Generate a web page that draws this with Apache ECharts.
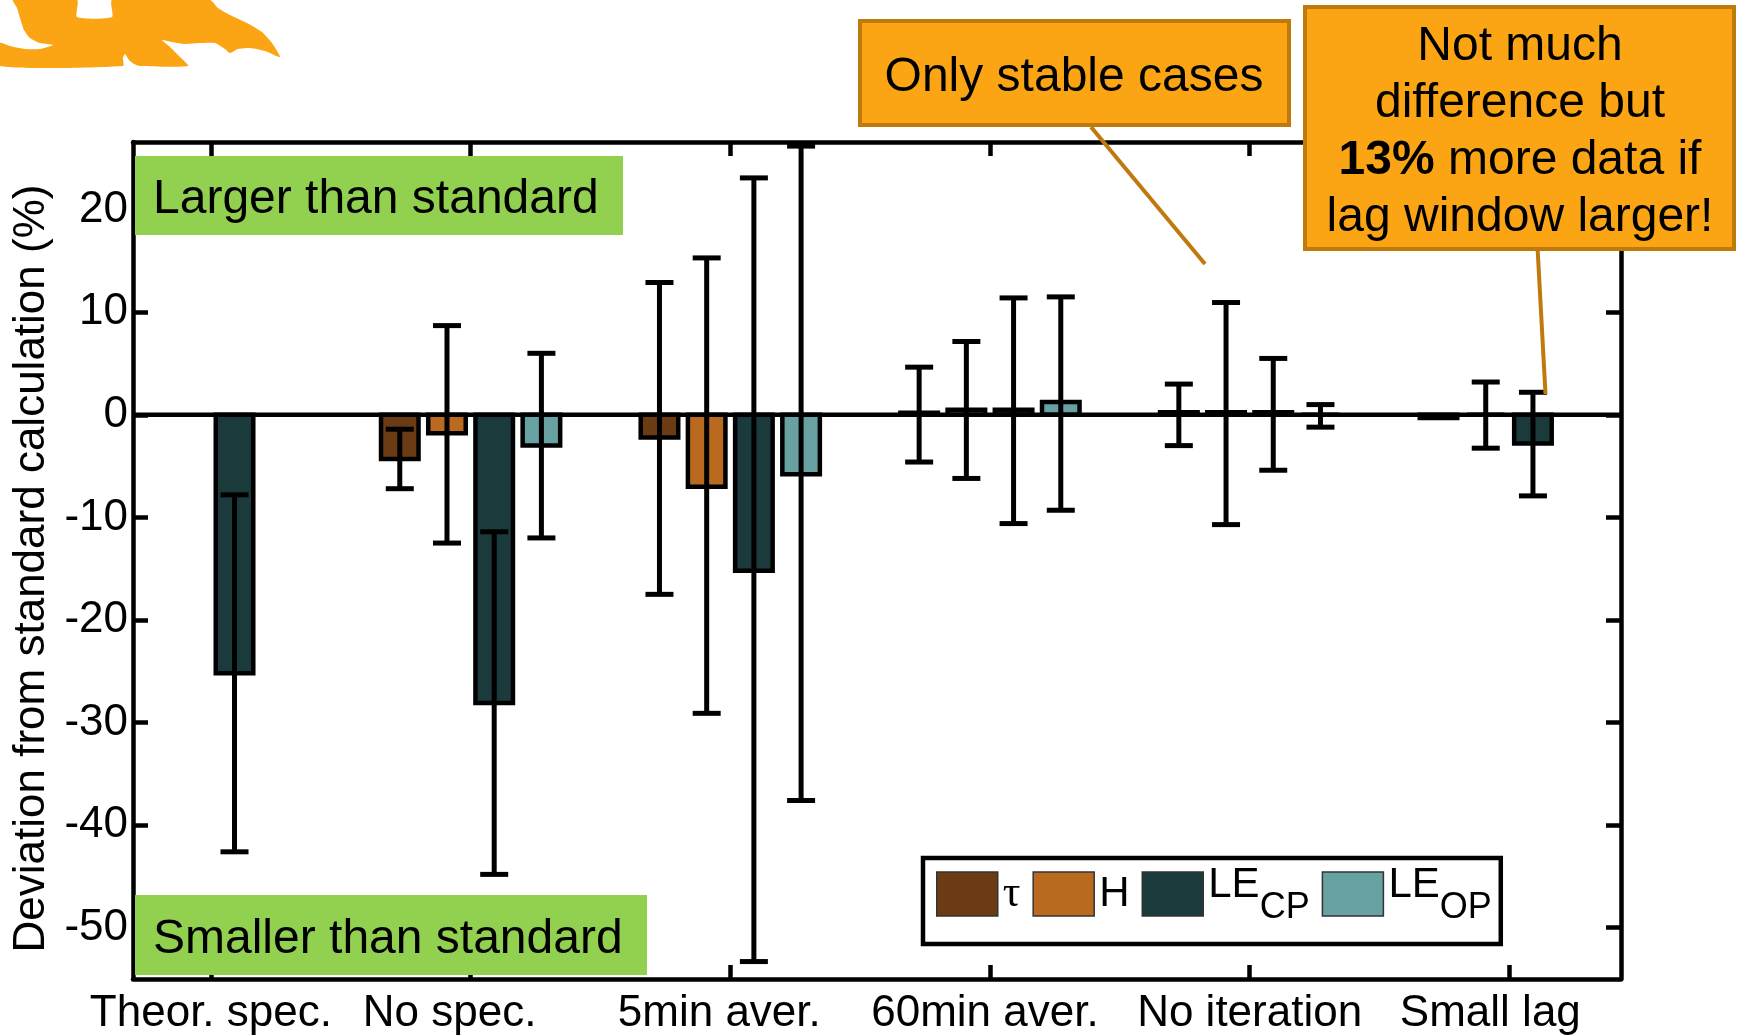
<!DOCTYPE html>
<html>
<head>
<meta charset="utf-8">
<script src="https://cdn.jsdelivr.net/npm/echarts@6/dist/echarts.min.js"></script>
<style>
html,body{margin:0;padding:0;background:#fff;}
#chart{width:1737px;height:1036px;}
</style>
</head>
<body>
<div id="chart"></div>
<script>
// ---- data ----
const categories = ['Theor. spec.', 'No spec.', '5min aver.', '60min aver.', 'No iteration', 'Small lag'];
const seriesNames = ['τ', 'H', 'LE_CP', 'LE_OP'];
const seriesColors = ['#6B3C14', '#B96A1E', '#1B3A3B', '#67A1A2'];

const tauMean  = [null, -4.3, -2.2, 0.2, 0.25, -0.3];
const tauLow   = [null, -7.2, -17.5, -4.6, -3.0, null];
const tauHigh  = [null, -1.4, 12.9, 4.65, 3.0, null];

const hMean    = [null, -1.8, -7.0, 0.5, 0.25, 0.0];
const hLow     = [null, -12.5, -29.1, -6.2, -10.7, -3.25];
const hHigh    = [null, 8.7, 15.3, 7.15, 10.95, 3.2];

const lecpMean = [-25.2, -28.1, -15.2, 0.5, 0.25, -2.8];
const lecpLow  = [-42.6, -44.8, -53.3, -10.6, -5.4, -7.9];
const lecpHigh = [-7.8, -11.4, 23.1, 11.4, 5.5, 2.2];

const leopMean = [null, -3.0, -5.8, 1.25, 0.0, null];
const leopLow  = [null, -12.0, -37.6, -9.3, -1.2, null];
const leopHigh = [null, 6.0, 26.2, 11.5, 1.0, null];

const yTicks = [-50, -40, -30, -20, -10, 0, 10, 20];
const xTicks = [1, 2, 3, 4, 5, 6];

// ---- layout / style constants ----
const FONT = 'Liberation Sans, Arial, sans-serif';
const offsets = [-0.2727, -0.0909, 0.0909, 0.2727];
const BAR_W = 0.1445;
const CAP = 14;
// horizontal nudge of each category label (px, negative = left)
const labelNudge = [0, -21, -11, -5, 0, -19];

const means = [tauMean, hMean, lecpMean, leopMean];
const lows = [tauLow, hLow, lecpLow, leopLow];
const highs = [tauHigh, hHigh, lecpHigh, leopHigh];

function barData(arr) {
  const out = [];
  arr.forEach((v, i) => { if (v !== null) out.push([xTicks[i], v]); });
  return out;
}
function errData(lo, hi) {
  const out = [];
  lo.forEach((v, i) => { if (v !== null && hi[i] !== null) out.push([xTicks[i], v, hi[i]]); });
  return out;
}

const series = [];
seriesNames.forEach((name, k) => {
  const off = offsets[k];
  const color = seriesColors[k];
  series.push({
    name: name,
    type: 'custom',
    coordinateSystem: 'cartesian2d',
    itemStyle: { color: color },
    encode: { x: 0, y: 1 },
    z: 2,
    data: barData(means[k]),
    renderItem: function (params, api) {
      const x = api.value(0) + off;
      const v = api.value(1);
      const p1 = api.coord([x - BAR_W / 2, v]);
      const p0 = api.coord([x + BAR_W / 2, 0]);
      return {
        type: 'rect',
        shape: { x: p1[0], y: Math.min(p0[1], p1[1]), width: p0[0] - p1[0], height: Math.abs(p0[1] - p1[1]) },
        style: { fill: color, stroke: '#000', lineWidth: 4.5 }
      };
    }
  });
});
seriesNames.forEach((name, k) => {
  const off = offsets[k];
  series.push({
    name: name + ' err',
    type: 'custom',
    coordinateSystem: 'cartesian2d',
    encode: { x: 0, y: [1, 2] },
    z: 4,
    silent: true,
    data: errData(lows[k], highs[k]),
    renderItem: function (params, api) {
      const x = api.value(0) + off;
      const lo = api.coord([x, api.value(1)]);
      const hi = api.coord([x, api.value(2)]);
      const st = { stroke: '#000', lineWidth: 5 };
      return {
        type: 'group',
        children: [
          { type: 'line', shape: { x1: lo[0], y1: lo[1], x2: hi[0], y2: hi[1] }, style: st },
          { type: 'line', shape: { x1: lo[0] - CAP, y1: lo[1], x2: lo[0] + CAP, y2: lo[1] }, style: st },
          { type: 'line', shape: { x1: hi[0] - CAP, y1: hi[1], x2: hi[0] + CAP, y2: hi[1] }, style: st }
        ]
      };
    }
  });
});
// zero line
series.push({
  name: 'zero',
  type: 'custom',
  coordinateSystem: 'cartesian2d',
  encode: { x: 0, y: 1 },
  z: 3,
  silent: true,
  data: [[0.7, 0]],
  renderItem: function (params, api) {
    const a = api.coord([0.7, 0]);
    const b = api.coord([6.43, 0]);
    return { type: 'line', shape: { x1: a[0], y1: a[1], x2: b[0], y2: b[1] }, style: { stroke: '#000', lineWidth: 4.5 } };
  }
});

const axisLineStyle = { color: '#000', width: 4.5 };
const tickStyle = { color: '#000', width: 4.5 };

const labelRich = {};
labelNudge.forEach((d, i) => {
  labelRich['c' + i] = {
    fontFamily: FONT, fontSize: 44, color: '#000',
    padding: d < 0 ? [0, -2 * d, 0, 0] : [0, 0, 0, 2 * d]
  };
});

const logoPts = [[13,0],[17,8],[20,18],[24,30],[30,38],[40,43],[53,45],[40,49],[25,49],[10,46],[0,43],[0,66],[123,66],[123,58],[125,54],[129,60],[134,64],[140,66],[188,66],[180,57],[170,47],[162,40],[172,42],[185,44],[200,43],[215,43],[225,49],[230,53],[238,49],[250,48],[265,51],[280,57],[272,43],[262,32],[247,23],[230,15],[218,8],[210,0],[112,0],[112,17],[77,17],[77,0]];

const option = {
  backgroundColor: '#fff',
  animation: false,
  grid: { left: 133, right: 116, top: 142, bottom: 56, containLabel: false },
  xAxis: [
    {
      type: 'value', min: 0.7, max: 6.43, position: 'bottom',
      axisLine: { show: true, onZero: false, lineStyle: axisLineStyle },
      axisTick: { show: true, inside: true, length: 14, lineStyle: tickStyle, customValues: xTicks },
      axisLabel: {
        show: true, customValues: xTicks, margin: 13,
        formatter: v => { const i = Math.round(v) - 1; return categories[i] ? '{c' + i + '|' + categories[i] + '}' : ''; },
        fontFamily: FONT, fontSize: 44, color: '#000',
        rich: labelRich
      },
      splitLine: { show: false }
    },
    {
      type: 'value', min: 0.7, max: 6.43, position: 'top',
      axisLine: { show: true, onZero: false, lineStyle: axisLineStyle },
      axisTick: { show: true, inside: true, length: 14, lineStyle: tickStyle, customValues: xTicks },
      axisLabel: { show: false },
      splitLine: { show: false }
    }
  ],
  yAxis: [
    {
      type: 'value', min: -55, max: 26.6, position: 'left',
      name: 'Deviation from standard calculation (%)',
      nameLocation: 'middle', nameGap: 75, nameRotate: 90,
      nameTextStyle: { fontFamily: FONT, fontSize: 44, color: '#000', padding: [0, 16, 0, 0] },
      axisLine: { show: true, onZero: false, lineStyle: axisLineStyle },
      axisTick: { show: true, inside: true, length: 15, lineStyle: tickStyle, customValues: yTicks },
      axisLabel: { show: true, customValues: yTicks, margin: 5, fontFamily: FONT, fontSize: 44, color: '#000' },
      splitLine: { show: false }
    },
    {
      type: 'value', min: -55, max: 26.6, position: 'right',
      axisLine: { show: true, onZero: false, lineStyle: axisLineStyle },
      axisTick: { show: true, inside: true, length: 15, lineStyle: tickStyle, customValues: yTicks },
      axisLabel: { show: false },
      splitLine: { show: false }
    }
  ],
  legend: {
    data: seriesNames,
    left: 923, top: 858,
    orient: 'horizontal',
    icon: 'rect',
    itemWidth: 61, itemHeight: 44, itemGap: 12,
    padding: [4, 9, 18, 13],
    borderColor: '#000', borderWidth: 4.5,
    backgroundColor: '#fff',
    itemStyle: { borderColor: '#333', borderWidth: 1.5 },
    selectedMode: false,
    formatter: function (name) {
      if (name === 'τ') return '{tau|τ}';
      if (name === 'H') return '{n|H}';
      if (name === 'LE_CP') return '{m|LE}{s|CP}';
      if (name === 'LE_OP') return '{m|LE}{s|OP}';
      return name;
    },
    textStyle: {
      fontFamily: FONT, fontSize: 42, color: '#000', lineHeight: 60,
      rich: {
        tau: { fontFamily: 'Liberation Serif, serif', fontSize: 44, lineHeight: 60 },
        n: { fontFamily: FONT, fontSize: 42, lineHeight: 60 },
        m: { fontFamily: FONT, fontSize: 42, lineHeight: 44, padding: [0, 0, 18, 0] },
        s: { fontFamily: FONT, fontSize: 36, lineHeight: 30, padding: [28, 0, 0, 0] }
      }
    }
  },
  graphic: [
    { type: 'polygon', z: 100, silent: true, shape: { points: logoPts, smooth: 0.2 }, style: { fill: '#FCA514' } },
    { type: 'rect', z: 100, silent: true, shape: { x: 135, y: 156, width: 488, height: 79 }, style: { fill: '#92D050' } },
    { type: 'text', z: 101, silent: true, style: { text: 'Larger than standard', x: 153, y: 200, font: '48px ' + FONT, fill: '#000', align: 'left', verticalAlign: 'middle' } },
    { type: 'rect', z: 100, silent: true, shape: { x: 135, y: 895, width: 512, height: 80 }, style: { fill: '#92D050' } },
    { type: 'text', z: 101, silent: true, style: { text: 'Smaller than standard', x: 153, y: 940, font: '48px ' + FONT, fill: '#000', align: 'left', verticalAlign: 'middle' } },
    { type: 'line', z: 100, silent: true, shape: { x1: 1091, y1: 127, x2: 1205, y2: 264 }, style: { stroke: '#BF7A0E', lineWidth: 4 } },
    { type: 'rect', z: 101, silent: true, shape: { x: 860, y: 21, width: 429, height: 104 }, style: { fill: '#FCA514', stroke: '#BF7A0E', lineWidth: 4 } },
    { type: 'text', z: 102, silent: true, style: { text: 'Only stable cases', x: 1074, y: 78, font: '48px ' + FONT, fill: '#000', align: 'center', verticalAlign: 'middle' } },
    { type: 'line', z: 100, silent: true, shape: { x1: 1537.6, y1: 249, x2: 1545.5, y2: 394 }, style: { stroke: '#BF7A0E', lineWidth: 4 } },
    { type: 'rect', z: 101, silent: true, shape: { x: 1305, y: 7, width: 429, height: 242 }, style: { fill: '#FCA514', stroke: '#BF7A0E', lineWidth: 4 } },
    {
      type: 'text', z: 102, silent: true,
      style: {
        text: 'Not much\ndifference but\n{b|13%} more data if\nlag window larger!',
        x: 1520, y: 132, font: '48px ' + FONT, fill: '#000', align: 'center', verticalAlign: 'middle', lineHeight: 57,
        rich: { b: { fontFamily: FONT, fontSize: 48, fontWeight: 'bold', lineHeight: 57 } }
      }
    }
  ],
  series: series
};

const chart = echarts.init(document.getElementById('chart'), null, { renderer: 'canvas' });
chart.setOption(option);
</script>
</body>
</html>
